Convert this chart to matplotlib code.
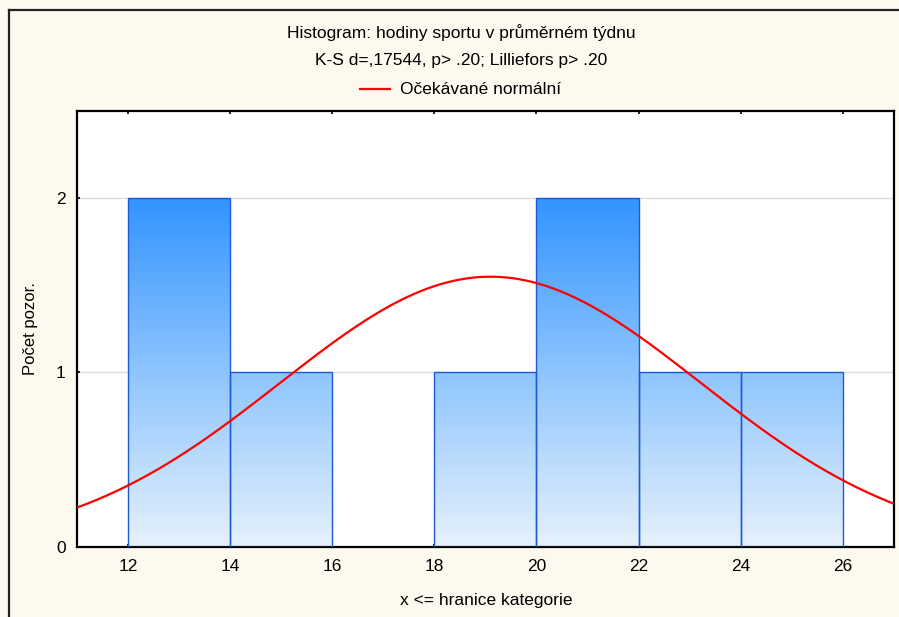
import numpy as np
import matplotlib
matplotlib.use("Agg")
import matplotlib.pyplot as plt
from matplotlib.colors import LinearSegmentedColormap
from matplotlib.patches import Rectangle
from matplotlib.lines import Line2D

plt.rcParams['font.family'] = ['Liberation Sans', 'DejaVu Sans']

# Data
bin_edges = [12, 14, 16, 18, 20, 22, 24, 26]
counts = [2, 1, 0, 1, 2, 1, 1]
n_obs = 8
bin_width = 2
mean_fit = 19.1   # position of the curve's peak
sd_fit = 4.12     # spread of the expected normal

title1 = "Histogram: hodiny sportu v průměrném týdnu"
title2 = "K-S d=,17544, p> .20; Lilliefors p> .20"
legend_label = "Očekávané normální"
xlabel = "x <= hranice kategorie"
ylabel = "Počet pozor."
xticks = [12, 14, 16, 18, 20, 22, 24, 26]
yticks = [0, 1, 2]

bg = '#fdf9ef'
fig = plt.figure(figsize=(8.99, 6.17), dpi=100, facecolor=bg)
ax = fig.add_axes([0.0854, 0.1139, 0.9944 - 0.0854, 0.7062])
ax.set_facecolor('white')

ax.set_xlim(11, 27)
ax.set_ylim(0, 2.5)

# horizontal grid
for yv in yticks[1:]:
    ax.axhline(yv, color='#dcdcdc', lw=1, zorder=0)

# gradient-filled bars (colour depends on height in data units)
cmap = LinearSegmentedColormap.from_list(
    'bars', [(0, '#e6f1fc'), (0.5, '#8ec5fe'), (1.0, '#3294ff')])
grad = np.linspace(0, 1, 256).reshape(-1, 1)
for i, c in enumerate(counts):
    if c == 0:
        continue
    x0, x1 = bin_edges[i], bin_edges[i + 1]
    rect = Rectangle((x0, 0), x1 - x0, c, facecolor='none',
                     edgecolor='#1d5ad4', lw=1.0, zorder=3)
    ax.add_patch(rect)
    im = ax.imshow(grad, cmap=cmap, origin='lower', aspect='auto',
                   extent=[11, 27, 0, 2], zorder=2, interpolation='bilinear')
    im.set_clip_path(rect)

# expected normal curve
xs = np.linspace(11, 27, 400)
ys = n_obs * bin_width / (sd_fit * np.sqrt(2 * np.pi)) * np.exp(-0.5 * ((xs - mean_fit) / sd_fit) ** 2)
ax.plot(xs, ys, color='#ff0000', lw=1.6, zorder=4)

ax.set_xticks(xticks)
ax.set_yticks(yticks)
ax.tick_params(axis='x', direction='in', length=2.5, width=1.2, top=True,
               labelsize=12.5, pad=9)
ax.tick_params(axis='y', direction='in', length=2.5, width=1.2,
               labelsize=12.5, pad=8)
for s in ax.spines.values():
    s.set_linewidth(1.6)
    s.set_color('black')

# titles and legend in figure coordinates
fig.text(461 / 899, 1 - 33 / 617, title1, ha='center', va='center', fontsize=12.5)
fig.text(461 / 899, 1 - 61 / 617, title2, ha='center', va='center', fontsize=12.5)
fig.add_artist(Line2D([360 / 899, 390 / 899], [1 - 89 / 617] * 2,
                      color='#ff0000', lw=1.6))
fig.text(400 / 899, 1 - 89 / 617, legend_label, ha='left', va='center', fontsize=12.5)

fig.text(486 / 899, 1 - 600 / 617, xlabel, ha='center', va='center', fontsize=12.5)
fig.text(31 / 899, 1 - 329 / 617, ylabel, ha='center', va='center',
         rotation=90, fontsize=12)

# outer frame (cut off at right and bottom)
fig.add_artist(Line2D([9 / 899, 1], [1 - 10 / 617] * 2, color='#222222', lw=1.6))
fig.add_artist(Line2D([9 / 899] * 2, [0, 1 - 10 / 617], color='#222222', lw=1.6))

fig.savefig('out.png', dpi=100, facecolor=bg)
